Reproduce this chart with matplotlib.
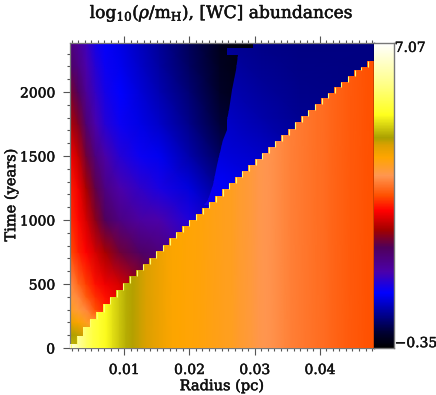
import matplotlib
matplotlib.use('Agg')
import matplotlib.pyplot as plt
import matplotlib.patheffects as pe
import numpy as np
from matplotlib.colors import LinearSegmentedColormap, Normalize
from matplotlib.patches import Polygon
from matplotlib.ticker import MultipleLocator

plt.rcParams['font.family'] = 'DejaVu Serif'
plt.rcParams['mathtext.fontset'] = 'dejavuserif'

W, H = 436, 395
VMIN, VMAX = -0.35, 7.07
R_MIN, R_MAX = 0.00172, 0.0483
T_MIN, T_MAX = 0, 2383

# colour scale stops
cmap_pos = [0, .05, .18, .25, .33, .385, .45, .50, .565, .625, .665, .69, .765, .86, 1]
cmap_rgb = ['#000000', '#000032', '#0000ff', '#4b00aa', '#50005a', '#a00000', '#ff0000', '#ff5000',
            '#ff9650', '#ffa500', '#dca000', '#aaa000', '#ffff1e', '#ffff82', '#ffffff']

# unshocked / free-wind region: position on the colour scale
inner_r = [.0017, .0030, .0042, .0056, .0071, .0094, .0125, .0155, .0201, .0247, .0310, .0483]
inner_t = [0, 100, 200, 300, 400, 500, 750, 1000, 1250, 1500, 1750, 2000, 2200, 2383]
inner_level = [
    [.72, .70, .68, .66, .64, .62, .60, .58, .55, .50, .40, .40],
    [.69, .68, .66, .64, .62, .60, .58, .55, .50, .45, .35, .35],
    [.65, .63, .60, .58, .56, .54, .50, .47, .44, .40, .30, .30],
    [.60, .58, .55, .50, .47, .45, .43, .41, .38, .34, .26, .26],
    [.58, .55, .51, .48, .46, .43, .40, .37, .34, .30, .23, .23],
    [.56, .52, .49, .46, .44, .42, .37, .33, .30, .25, .20, .20],
    [.50, .47, .45, .42, .39, .35, .32, .30, .25, .20, .15, .15],
    [.48, .455, .42, .37, .33, .29, .26, .25, .21, .15, .10, .10],
    [.47, .44, .39, .34, .29, .25, .225, .205, .16, .11, .05, .05],
    [.445, .41, .35, .295, .255, .215, .19, .17, .125, .08, .03, .03],
    [.40, .365, .305, .25, .215, .19, .165, .145, .105, .055, .02, .02],
    [.36, .325, .27, .23, .20, .18, .155, .13, .09, .04, .01, .01],
    [.32, .29, .25, .215, .19, .17, .145, .12, .08, .035, .005, .005],
    [.30, .27, .24, .20, .185, .165, .14, .115, .075, .03, .005, .005],
]

# shocked wind outside the contact surface
outer_r = [.0190, .0250, .0310, .0371, .0483]
outer_t = [1000, 1100, 1300, 1500, 1800, 2100, 2383]
outer_level = [
    [.235, .19, .17, .15, .13],
    [.23, .18, .16, .14, .12],
    [.21, .175, .155, .13, .115],
    [.175, .16, .145, .12, .11],
    [.155, .145, .125, .11, .105],
    [.14, .13, .115, .105, .10],
    [.12, .115, .105, .10, .10],
]
contact_t = [1117, 1156, 1273, 1430, 1625, 1703, 1781, 1859, 2016, 2172, 2289, 2289, 2344, 2344, 2383]
contact_r = [.0222, .0229, .0236, .0243, .0252, .0258, .0257, .0261, .0266, .0272, .0275, .0258, .0258, .0298, .0298]

# swept-up ISM: one column per radial zone
shell_top = [31, 94, 164, 227, 281, 344, 398, 453, 508, 563, 609, 656, 703, 758, 805, 859, 906, 953, 1000,
             1047, 1094, 1141, 1188, 1242, 1289, 1336, 1383, 1430, 1477, 1523, 1570, 1617, 1664, 1711, 1766,
             1813, 1859, 1906, 1953, 1992, 2039, 2078, 2125, 2172, 2195, 2242]
shell_density = [6.70, 6.18, 5.81, 5.59, 5.44, 5.29, 5.14, 4.99, 4.84, 4.73, 4.66, 4.58, 4.51, 4.44, 4.36, 4.31,
                 4.29, 4.27, 4.25, 4.24, 4.21, 4.18, 4.15, 4.12, 4.10, 4.04, 3.99, 3.94, 3.88, 3.84, 3.81, 3.77,
                 3.73, 3.69, 3.66, 3.63, 3.60, 3.57, 3.55, 3.51, 3.49, 3.46, 3.43, 3.41, 3.38, 3.36]

title = r'log$_{10}$($\rho$/m$_{\rm H}$), [WC] abundances'
xlabel = 'Radius (pc)'
ylabel = 'Time (years)'
x_major = [0.01, 0.02, 0.03, 0.04]
x_labels = ['0.01', '0.02', '0.03', '0.04']
y_major = [0, 500, 1000, 1500, 2000]

cmap = LinearSegmentedColormap.from_list('wc', list(zip(cmap_pos, cmap_rgb)), N=512)
norm = Normalize(VMIN, VMAX)
heavy = [pe.withStroke(linewidth=0.35, foreground='#111111')]


def to_density(level):
    return VMIN + np.asarray(level, float) * (VMAX - VMIN)


fig = plt.figure(figsize=(W / 100, H / 100), dpi=100)
ax = fig.add_axes([70 / W, (H - 348) / H, 304 / W, 305 / H])
cax = fig.add_axes([374 / W, (H - 348) / H, 20 / W, 305 / H])

# wind layers
ax.pcolormesh(inner_r, inner_t, to_density(inner_level), shading='gouraud', cmap=cmap, norm=norm)
mesh = ax.pcolormesh(outer_r, outer_t, to_density(outer_level), shading='gouraud', cmap=cmap, norm=norm)
poly_r = [R_MAX] + contact_r + [R_MAX]
poly_t = [contact_t[0]] + contact_t + [T_MAX]
clip = Polygon(np.column_stack([poly_r, poly_t]), closed=True, transform=ax.transData, fc='none', ec='none')
ax.add_patch(clip)
mesh.set_clip_path(clip)

# swept-up shell, clipped to the staircase front
edges = np.linspace(R_MIN, R_MAX, len(shell_top) + 1)
centres = 0.5 * (edges[:-1] + edges[1:])
shell_x = np.r_[edges[0], centres, edges[-1]]
shell_z = np.r_[shell_density[0], shell_density, shell_density[-1]]
shell_mesh = ax.pcolormesh(shell_x, [T_MIN, T_MAX], np.vstack([shell_z, shell_z]), shading='gouraud',
                           cmap=cmap, norm=norm, zorder=3)
stair_r = np.repeat(edges, 2)[1:-1]
stair_t = np.repeat(shell_top, 2)
stair = Polygon(np.column_stack([np.r_[R_MIN, stair_r, R_MAX], np.r_[T_MIN, stair_t, T_MIN]]), closed=True,
                transform=ax.transData, fc='none', ec='none')
ax.add_patch(stair)
shell_mesh.set_clip_path(stair)

lower = [0] + shell_top[:-1]
ax.vlines(edges[:-1] + 0.00008, lower, shell_top, color='#ffff70', lw=0.8, zorder=4)

ax.set_xlim(R_MIN, R_MAX)
ax.set_ylim(T_MIN, T_MAX)
ax.set_xticks(x_major, x_labels)
ax.set_yticks(y_major)
ax.xaxis.set_minor_locator(MultipleLocator(0.001))
ax.yaxis.set_minor_locator(MultipleLocator(100))
tick_col = '#555555'
ax.tick_params(axis='both', which='major', length=4.8, width=0.8, color=tick_col, direction='out',
               labelsize=10, pad=6, labelcolor='#111111')
ax.tick_params(axis='both', which='minor', length=2.4, width=0.8, color=tick_col, direction='out')
ax.tick_params(axis='x', which='both', top=True, bottom=True)
ax.tick_params(axis='y', which='both', left=True, right=False)
for lab in ax.get_xticklabels() + ax.get_yticklabels():
    lab.set_path_effects(heavy)
for s in ax.spines.values():
    s.set_color('#777777')
    s.set_linewidth(0.9)
ax.spines['right'].set_color('black')
ax.spines['right'].set_linewidth(1.0)
ax.spines['right'].set_zorder(6)

# colour bar
cax.pcolormesh([0, 1], np.linspace(VMIN, VMAX, 513), np.linspace(VMIN, VMAX, 512)[:, None], cmap=cmap, norm=norm)
cax.set_xlim(0, 1)
cax.set_ylim(VMIN, VMAX)
cax.set_xticks([])
cax.set_yticks([])
for s in cax.spines.values():
    s.set_color('#777777')
    s.set_linewidth(1.0)
cax.spines['left'].set_visible(False)
cax.annotate('7.07', xy=(1, VMAX), xycoords=('axes fraction', 'data'), xytext=(0.5, -3.5),
             textcoords='offset points', ha='left', va='center', fontsize=10, color='#111111', path_effects=heavy)
cax.annotate('\u22120.35', xy=(1, VMIN), xycoords=('axes fraction', 'data'), xytext=(0.5, 3.5),
             textcoords='offset points', ha='left', va='center', fontsize=10, color='#111111', path_effects=heavy)

fig.text(222 / W, 1 - 18 / H, title, ha='center', va='baseline', fontsize=12.3, color='#111111', path_effects=heavy)
fig.text(222 / W, 1 - 386 / H, xlabel, ha='center', va='center', fontsize=10.5, color='#111111', path_effects=heavy)
fig.text(11 / W, 1 - 195 / H, ylabel, ha='center', va='center', rotation=90, fontsize=10.5, color='#111111', path_effects=heavy)

fig.savefig('out.png', dpi=100)
